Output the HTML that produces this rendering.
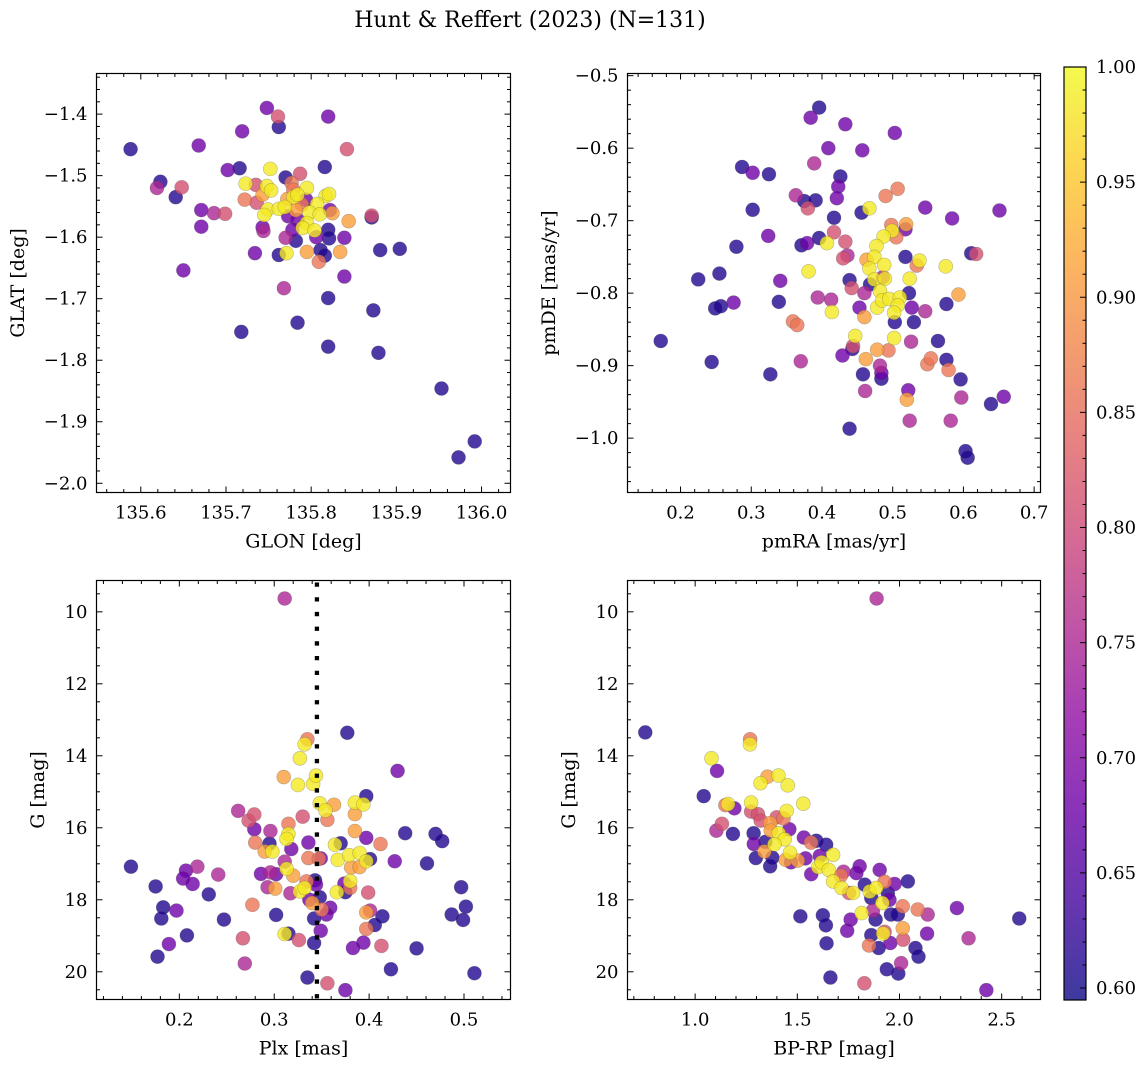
<!DOCTYPE html>
<html><head><meta charset="utf-8"><title>Hunt & Reffert (2023)</title>
<style>
html,body{margin:0;padding:0;background:#fff;}
svg{display:block;font-family:"DejaVu Serif","Liberation Serif",serif;}
</style></head>
<body>
<svg id="fig" width="1148" height="1067" viewBox="0 0 1148 1067" xmlns="http://www.w3.org/2000/svg">
<defs>
<linearGradient id="plasmaGrad" x1="0" y1="1" x2="0" y2="0">
<stop offset="0" stop-color="#0d0887"/><stop offset="0.1" stop-color="#41049d"/><stop offset="0.2" stop-color="#6a00a8"/><stop offset="0.3" stop-color="#8f0da4"/><stop offset="0.4" stop-color="#b12a90"/><stop offset="0.5" stop-color="#cc4778"/><stop offset="0.6" stop-color="#e16462"/><stop offset="0.7" stop-color="#f2844b"/><stop offset="0.8" stop-color="#fca636"/><stop offset="0.9" stop-color="#fcce25"/><stop offset="1" stop-color="#f0f921"/>
</linearGradient>
</defs>
<text x="530" y="27" text-anchor="middle" font-size="22">Hunt &amp; Reffert (2023) (N=131)</text>
</svg>
<script>
// ---- data ----
const tlGlon=[135.588,135.623,135.619,135.648,135.641,135.668,135.671,135.671,135.686,135.699,135.702,135.716,135.719,135.650,135.718,135.748,135.761,135.762,135.820,135.842,135.816,135.752,135.770,135.787,135.723,135.735,135.748,135.753,135.743,135.722,135.736,135.777,135.795,135.779,135.784,135.772,135.794,135.817,135.821,135.807,135.749,135.762,135.769,135.745,135.773,135.782,135.798,135.810,135.822,135.825,135.795,135.784,135.743,135.744,135.778,135.790,135.804,135.806,135.820,135.821,135.839,135.844,135.871,135.871,135.770,135.782,135.734,135.762,135.771,135.795,135.811,135.816,135.809,135.834,135.881,135.904,135.839,135.768,135.820,135.873,135.784,135.820,135.879,135.953,135.992,135.973,135.779,135.789];
const tlGlat=[-1.457,-1.510,-1.520,-1.519,-1.535,-1.451,-1.556,-1.583,-1.561,-1.562,-1.491,-1.488,-1.428,-1.654,-1.754,-1.390,-1.404,-1.421,-1.404,-1.457,-1.486,-1.489,-1.503,-1.497,-1.513,-1.515,-1.517,-1.524,-1.531,-1.539,-1.544,-1.512,-1.520,-1.535,-1.531,-1.538,-1.539,-1.533,-1.530,-1.546,-1.555,-1.554,-1.551,-1.564,-1.566,-1.556,-1.560,-1.563,-1.556,-1.561,-1.577,-1.572,-1.584,-1.590,-1.588,-1.585,-1.589,-1.600,-1.588,-1.602,-1.601,-1.574,-1.565,-1.568,-1.601,-1.606,-1.626,-1.629,-1.626,-1.624,-1.621,-1.630,-1.640,-1.624,-1.621,-1.619,-1.664,-1.683,-1.699,-1.719,-1.739,-1.778,-1.788,-1.846,-1.932,-1.958,-1.523,-1.547];
const tlProb=[0.61,0.61,0.75,0.81,0.61,0.68,0.68,0.68,0.75,0.81,0.68,0.61,0.68,0.68,0.61,0.68,0.81,0.61,0.68,0.81,0.61,0.985,0.61,0.81,0.985,0.81,0.985,0.985,0.91,0.86,0.81,0.86,0.985,0.985,0.985,0.91,0.68,0.985,0.985,0.985,0.985,0.985,0.985,0.985,0.68,0.91,0.985,0.985,0.68,0.91,0.985,0.68,0.68,0.75,0.68,0.985,0.985,0.68,0.61,0.61,0.68,0.91,0.81,0.61,0.75,0.61,0.68,0.61,0.985,0.91,0.61,0.61,0.86,0.91,0.61,0.61,0.68,0.75,0.61,0.61,0.61,0.61,0.61,0.61,0.61,0.61,0.86,0.86];

const trPmra=[0.396,0.384,0.433,0.503,0.409,0.457,0.389,0.287,0.302,0.325,0.426,0.423,0.421,0.363,0.375,0.391,0.380,0.302,0.417,0.456,0.467,0.490,0.507,0.546,0.584,0.651,0.324,0.279,0.371,0.379,0.396,0.407,0.417,0.433,0.430,0.436,0.498,0.519,0.518,0.499,0.487,0.505,0.477,0.474,0.463,0.467,0.488,0.518,0.538,0.534,0.575,0.611,0.618,0.225,0.255,0.381,0.341,0.439,0.442,0.468,0.474,0.486,0.489,0.524,0.460,0.482,0.523,0.593,0.249,0.257,0.275,0.339,0.394,0.413,0.414,0.453,0.478,0.485,0.495,0.510,0.507,0.502,0.527,0.576,0.546,0.460,0.503,0.530,0.359,0.365,0.172,0.447,0.444,0.443,0.429,0.502,0.478,0.494,0.462,0.526,0.564,0.244,0.370,0.327,0.458,0.482,0.484,0.484,0.549,0.554,0.576,0.579,0.596,0.461,0.522,0.520,0.597,0.639,0.657,0.524,0.582,0.439,0.603,0.606];
const trPmde=[-0.544,-0.558,-0.567,-0.579,-0.600,-0.603,-0.621,-0.626,-0.634,-0.636,-0.639,-0.653,-0.669,-0.665,-0.673,-0.672,-0.683,-0.685,-0.696,-0.689,-0.683,-0.666,-0.656,-0.682,-0.697,-0.686,-0.721,-0.736,-0.734,-0.731,-0.724,-0.731,-0.716,-0.729,-0.752,-0.748,-0.706,-0.705,-0.712,-0.714,-0.722,-0.723,-0.735,-0.750,-0.754,-0.766,-0.761,-0.750,-0.755,-0.762,-0.763,-0.745,-0.746,-0.781,-0.773,-0.770,-0.783,-0.782,-0.793,-0.788,-0.781,-0.778,-0.780,-0.780,-0.800,-0.797,-0.800,-0.802,-0.821,-0.818,-0.813,-0.812,-0.806,-0.809,-0.826,-0.820,-0.820,-0.810,-0.808,-0.806,-0.817,-0.827,-0.820,-0.815,-0.825,-0.833,-0.840,-0.840,-0.839,-0.844,-0.866,-0.859,-0.873,-0.877,-0.886,-0.862,-0.878,-0.879,-0.891,-0.867,-0.866,-0.895,-0.894,-0.912,-0.912,-0.900,-0.910,-0.918,-0.898,-0.890,-0.892,-0.906,-0.919,-0.935,-0.934,-0.947,-0.944,-0.953,-0.943,-0.976,-0.976,-0.987,-1.018,-1.027];
const trProb=[0.61,0.68,0.68,0.68,0.68,0.68,0.75,0.61,0.68,0.61,0.61,0.68,0.68,0.75,0.61,0.61,0.81,0.61,0.61,0.61,0.985,0.86,0.86,0.68,0.68,0.68,0.68,0.61,0.61,0.68,0.61,0.985,0.81,0.81,0.81,0.75,0.86,0.91,0.68,0.985,0.985,0.86,0.985,0.985,0.91,0.985,0.985,0.61,0.985,0.86,0.985,0.61,0.81,0.61,0.61,0.985,0.68,0.61,0.81,0.61,0.985,0.75,0.985,0.985,0.75,0.985,0.61,0.91,0.61,0.61,0.68,0.61,0.75,0.75,0.985,0.68,0.985,0.985,0.985,0.985,0.985,0.985,0.68,0.61,0.75,0.91,0.61,0.61,0.86,0.86,0.61,0.985,0.81,0.61,0.68,0.985,0.91,0.86,0.91,0.75,0.61,0.61,0.75,0.61,0.61,0.75,0.68,0.61,0.86,0.86,0.61,0.86,0.61,0.75,0.68,0.91,0.75,0.61,0.68,0.75,0.75,0.61,0.61,0.61];

const blPlx=[0.311,0.377,0.335,0.332,0.327,0.430,0.310,0.325,0.341,0.344,0.397,0.348,0.354,0.363,0.385,0.394,0.385,0.356,0.330,0.262,0.273,0.279,0.315,0.279,0.296,0.315,0.313,0.385,0.397,0.438,0.470,0.477,0.280,0.295,0.336,0.364,0.370,0.412,0.290,0.298,0.318,0.336,0.347,0.349,0.367,0.379,0.390,0.401,0.397,0.381,0.390,0.427,0.461,0.311,0.313,0.320,0.149,0.207,0.219,0.241,0.204,0.214,0.286,0.296,0.302,0.175,0.231,0.293,0.301,0.317,0.327,0.332,0.334,0.343,0.344,0.366,0.375,0.374,0.380,0.380,0.399,0.497,0.277,0.337,0.340,0.348,0.350,0.359,0.355,0.397,0.401,0.414,0.406,0.397,0.502,0.487,0.499,0.183,0.197,0.181,0.247,0.302,0.342,0.349,0.311,0.315,0.208,0.189,0.267,0.326,0.342,0.383,0.394,0.413,0.450,0.177,0.269,0.423,0.511,0.335,0.356,0.375];
const blG=[9.63,13.36,13.54,13.68,14.07,14.42,14.59,14.81,14.78,14.55,15.12,15.32,15.52,15.36,15.30,15.35,15.62,15.78,15.69,15.53,15.80,15.63,15.89,16.04,16.09,16.17,16.31,16.09,16.28,16.15,16.17,16.37,16.41,16.44,16.41,16.47,16.43,16.45,16.66,16.66,16.59,16.84,16.86,16.85,16.89,16.76,16.70,16.87,16.93,17.10,17.09,16.93,16.99,16.94,17.14,17.33,17.08,17.19,17.08,17.30,17.41,17.56,17.28,17.24,17.29,17.63,17.85,17.65,17.69,17.82,17.77,17.67,17.49,17.46,17.58,17.79,17.79,17.55,17.48,17.67,17.80,17.65,18.14,18.00,18.09,17.93,18.27,18.22,18.41,18.35,18.30,18.46,18.70,18.81,18.19,18.41,18.56,18.21,18.30,18.52,18.55,18.42,18.52,18.86,18.95,18.94,18.99,19.23,19.07,19.12,19.20,19.34,19.19,19.28,19.35,19.58,19.77,19.93,20.04,20.16,20.32,20.51];
const blProb=[0.75,0.61,0.86,0.985,0.985,0.68,0.91,0.985,0.985,0.985,0.61,0.985,0.985,0.91,0.985,0.985,0.91,0.86,0.81,0.75,0.81,0.81,0.86,0.68,0.75,0.985,0.985,0.91,0.68,0.61,0.61,0.61,0.86,0.61,0.68,0.985,0.61,0.86,0.91,0.985,0.68,0.86,0.86,0.68,0.985,0.985,0.985,0.61,0.985,0.91,0.91,0.68,0.61,0.75,0.985,0.91,0.61,0.68,0.75,0.75,0.68,0.68,0.68,0.75,0.68,0.61,0.61,0.75,0.91,0.75,0.985,0.985,0.86,0.61,0.68,0.985,0.61,0.68,0.985,0.86,0.81,0.61,0.86,0.68,0.91,0.61,0.86,0.68,0.68,0.91,0.75,0.61,0.61,0.86,0.61,0.61,0.61,0.61,0.68,0.61,0.61,0.61,0.61,0.68,0.985,0.61,0.61,0.68,0.81,0.81,0.61,0.68,0.68,0.81,0.61,0.61,0.75,0.61,0.61,0.61,0.81,0.68];

const brBprp=[1.888,0.756,1.269,1.268,1.080,1.107,1.042,1.320,1.354,1.408,1.453,1.529,1.274,1.148,1.161,1.192,1.131,1.104,1.185,1.274,1.307,1.321,1.399,1.432,1.448,1.367,1.370,1.461,1.286,1.287,1.344,1.409,1.438,1.388,1.339,1.297,1.367,1.378,1.443,1.464,1.469,1.502,1.532,1.567,1.593,1.641,1.540,1.610,1.675,1.568,1.602,1.619,1.654,1.675,1.713,1.726,1.789,1.805,1.716,1.753,1.773,1.830,1.854,1.886,1.903,1.927,1.976,2.041,1.943,1.951,1.862,1.916,1.870,1.815,1.958,1.992,2.016,2.089,2.138,2.281,2.586,1.515,1.625,1.640,1.643,1.761,1.744,1.883,1.862,1.927,1.920,2.016,2.018,2.135,1.955,1.851,1.898,2.078,2.093,2.338,2.008,1.938,1.994,1.662,1.828,2.425];
const brG=[9.63,13.35,13.54,13.68,14.07,14.42,15.12,14.76,14.58,14.55,14.82,15.33,15.30,15.37,15.34,15.46,15.89,16.08,16.17,15.55,15.62,15.80,15.71,15.74,15.53,15.87,16.08,16.04,16.15,16.45,16.39,16.15,16.32,16.46,16.66,16.84,17.07,16.83,16.89,16.69,16.96,16.91,16.27,16.41,16.36,16.47,16.85,16.78,16.75,17.29,17.09,16.96,17.17,17.49,17.33,17.22,17.26,17.07,17.67,17.81,17.81,17.58,17.77,17.67,17.17,17.50,17.56,17.49,17.81,18.00,17.95,18.09,18.30,18.37,18.41,18.41,18.18,18.27,18.41,18.23,18.52,18.46,18.43,18.71,19.21,18.55,18.86,18.55,18.98,18.89,18.94,18.79,19.11,18.94,19.20,19.27,19.34,19.34,19.58,19.07,19.76,19.93,20.05,20.16,20.32,20.51];
const brProb=[0.75,0.61,0.86,0.985,0.985,0.68,0.61,0.985,0.91,0.985,0.985,0.985,0.985,0.86,0.985,0.68,0.81,0.75,0.61,0.81,0.81,0.81,0.81,0.86,0.985,0.91,0.91,0.68,0.61,0.68,0.61,0.985,0.985,0.985,0.91,0.61,0.61,0.61,0.91,0.985,0.68,0.91,0.68,0.86,0.61,0.61,0.68,0.68,0.985,0.68,0.985,0.985,0.985,0.985,0.86,0.75,0.68,0.68,0.985,0.81,0.985,0.61,0.985,0.985,0.68,0.86,0.68,0.61,0.61,0.68,0.61,0.985,0.75,0.985,0.61,0.61,0.86,0.86,0.75,0.68,0.61,0.61,0.61,0.61,0.61,0.68,0.68,0.61,0.61,0.81,0.985,0.91,0.81,0.68,0.68,0.86,0.61,0.61,0.61,0.75,0.75,0.61,0.61,0.61,0.81,0.68];

const plxCut=[0.345];
const cbTicks=[0.60,0.65,0.70,0.75,0.80,0.85,0.90,0.95,1.00];
const cbRange=[0.5948,1.0];

// ---- rendering ----
const NS="http://www.w3.org/2000/svg";
const svg=document.getElementById('fig');
function mk(tag,attrs,parent){const e=document.createElementNS(NS,tag);for(const k in attrs)e.setAttribute(k,attrs[k]);(parent||svg).appendChild(e);return e;}
const stops=[[0,[13,8,135]],[0.1,[65,4,157]],[0.2,[106,0,168]],[0.3,[143,13,164]],[0.4,[177,42,144]],[0.5,[204,71,120]],[0.6,[225,100,98]],[0.7,[242,132,75]],[0.8,[252,166,54]],[0.9,[252,206,37]],[1,[240,249,33]]];
function plasma(v){let t=(v-cbRange[0])/(cbRange[1]-cbRange[0]);t=Math.max(0,Math.min(1,t));
 for(let i=1;i<stops.length;i++){if(t<=stops[i][0]){const a=stops[i-1],b=stops[i];const f=(t-a[0])/(b[0]-a[0]);
 const c=a[1].map((x,j)=>Math.round(x+(b[1][j]-x)*f));return `rgb(${c[0]},${c[1]},${c[2]})`;}}return 'rgb(240,249,33)';}
function fmt(v,d){const s=Math.abs(v).toFixed(d);return (v<-1e-9?'\u2212':'')+s;}

function panel(cfg){
 const {name,x0,x1,y0,y1,xd,yd,xs,ys,cs,xMaj,xMin,yMaj,yMin,xDec,yDec,xlabel,ylabel,ylabX}=cfg;
 const g=mk('g',{});
 
 
 const sx=v=>x0+(v-xd[0])/(xd[1]-xd[0])*(x1-x0);
 const sy=v=>y1-(v-yd[0])/(yd[1]-yd[0])*(y1-y0);
 const clip=mk('clipPath',{id:name+'-clip'},g);mk('rect',{x:x0,y:y0,width:x1-x0,height:y1-y0},clip);
 const pts=mk('g',{'clip-path':`url(#${name}-clip)`},g);
 
 
 const idx=xs.map((_,i)=>i).sort((a,b)=>cs[a]-cs[b]);
 idx.forEach(i=>{const c=mk('circle',{cx:sx(xs[i]).toFixed(2),cy:sy(ys[i]).toFixed(2),r:7,fill:plasma(cs[i]),'fill-opacity':0.8,stroke:'#444','stroke-opacity':0.35,'stroke-width':0.6},pts);
  
  });
 if(cfg.vline){cfg.vline.forEach(v=>{const l=mk('line',{x1:sx(v),x2:sx(v),y1:y0+2,y2:y1,stroke:'#000','stroke-width':4.3,'stroke-dasharray':'4.3 10.4'},g);
  
  });}
 const tk=mk('g',{stroke:'#000','stroke-width':1},g);
 
 
 const eps=1e-9;
 for(let v=Math.ceil(xd[0]/xMin-eps)*xMin;v<=xd[1]+eps;v+=xMin){const X=sx(v);const maj=Math.abs(v/xMaj-Math.round(v/xMaj))<1e-6;const L=maj?6:3.5;
  mk('line',{x1:X,x2:X,y1:y1,y2:y1-L},tk);mk('line',{x1:X,x2:X,y1:y0,y2:y0+L},tk);}
 for(let v=Math.ceil(yd[0]/yMin-eps)*yMin;v<=yd[1]+eps;v+=yMin){const Y=sy(v);const maj=Math.abs(v/yMaj-Math.round(v/yMaj))<1e-6;const L=maj?6:3.5;
  mk('line',{x1:x0,x2:x0+L,y1:Y,y2:Y},tk);mk('line',{x1:x1,x2:x1-L,y1:Y,y2:Y},tk);}
 const tl=mk('g',{'font-size':18,fill:'#000'},g);
 for(let v=Math.ceil(xd[0]/xMaj-eps)*xMaj;v<=xd[1]+eps;v+=xMaj){const t=mk('text',{x:sx(v),y:y1+26,'text-anchor':'middle'},tl);t.textContent=fmt(v,xDec);
  
  }
 for(let v=Math.ceil(yd[0]/yMaj-eps)*yMaj;v<=yd[1]+eps;v+=yMaj){let s=fmt(v,yDec);if(cfg.negY)s=fmt(-v,yDec);
  const t=mk('text',{x:x0-9,y:sy(v)+6,'text-anchor':'end'},tl);t.textContent=s;
  
  }
 mk('rect',{x:x0,y:y0,width:x1-x0,height:y1-y0,fill:'none',stroke:'#000','stroke-width':1.2},g);
 const xl=mk('text',{x:(x0+x1)/2,y:y1+55,'text-anchor':'middle','font-size':19},g);xl.textContent=xlabel;
 
 
 const yc=(y0+y1)/2;const yl=mk('text',{x:ylabX,y:yc,'text-anchor':'middle','font-size':19,transform:`rotate(-90 ${ylabX} ${yc})`},g);yl.textContent=ylabel;
 
 
}

panel({name:'glon-glat',x0:96.5,x1:510.5,y0:73.5,y1:492.5,xd:[135.548,136.034],yd:[-2.015,-1.334],xs:tlGlon,ys:tlGlat,cs:tlProb,xMaj:0.1,xMin:0.02,yMaj:0.1,yMin:0.02,xDec:1,yDec:1,xlabel:'GLON [deg]',ylabel:'GLAT [deg]',ylabX:24});
panel({name:'proper-motion',x0:627.5,x1:1040.5,y0:73.5,y1:492.5,xd:[0.125,0.709],yd:[-1.075,-0.497],xs:trPmra,ys:trPmde,cs:trProb,xMaj:0.1,xMin:0.02,yMaj:0.1,yMin:0.02,xDec:1,yDec:1,xlabel:'pmRA [mas/yr]',ylabel:'pmDE [mas/yr]',ylabX:555});
panel({name:'plx-g',x0:96.5,x1:510.5,y0:580.5,y1:999.5,xd:[0.1127,0.549],yd:[-20.77,-9.13],xs:blPlx,ys:blG.map(v=>-v),cs:blProb,xMaj:0.1,xMin:0.02,yMaj:2,yMin:0.5,xDec:1,yDec:0,xlabel:'Plx [mas]',ylabel:'G [mag]',ylabX:44,vline:plxCut,negY:true});
panel({name:'cmd',x0:627.5,x1:1040.5,y0:580.5,y1:999.5,xd:[0.669,2.690],yd:[-20.77,-9.13],xs:brBprp,ys:brG.map(v=>-v),cs:brProb,xMaj:0.5,xMin:0.1,yMaj:2,yMin:0.5,xDec:1,yDec:0,xlabel:'BP-RP [mag]',ylabel:'G [mag]',ylabX:575,negY:true});

// colorbar
const cb=mk('g',{});


const cbX0=1064,cbX1=1086,cbY0=67,cbY1=1000;
const cy=v=>cbY1-(v-cbRange[0])/(cbRange[1]-cbRange[0])*(cbY1-cbY0);
mk('rect',{x:cbX0,y:cbY0,width:cbX1-cbX0,height:cbY1-cbY0,fill:'url(#plasmaGrad)','fill-opacity':0.8},cb);
for(let v=0.60;v<=1.0001;v+=0.01){const Y=cy(v);const maj=Math.abs(v*20-Math.round(v*20))<1e-6;mk('line',{x1:cbX1,x2:cbX1-(maj?6:3.5),y1:Y,y2:Y,stroke:'#000','stroke-width':1},cb);}
cbTicks.forEach(v=>{const t=mk('text',{x:cbX1+10,y:cy(v)+6,'font-size':18},cb);t.textContent=v.toFixed(2);
 
 });
mk('rect',{x:cbX0,y:cbY0,width:cbX1-cbX0,height:cbY1-cbY0,fill:'none',stroke:'#000','stroke-width':1.2},cb);
</script>
</body></html>
